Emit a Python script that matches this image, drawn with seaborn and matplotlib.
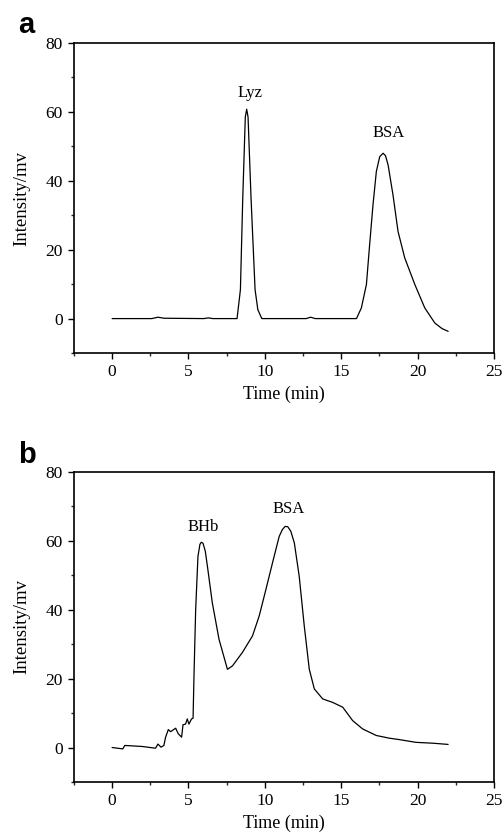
import numpy as np
import pandas as pd
import matplotlib
matplotlib.use("Agg")
import matplotlib.pyplot as plt
import seaborn as sns
from matplotlib.ticker import MultipleLocator

# Panel a data
time_a = [0, 2.6, 3.0, 3.4, 6.0, 6.3, 6.6, 8.18, 8.4, 8.55, 8.72, 8.81, 8.9, 9.1, 9.36,
          9.54, 9.8, 12.7, 13.0, 13.3, 16.0, 16.32, 16.65, 16.86, 17.08, 17.3, 17.52,
          17.74, 17.9, 18.07, 18.39, 18.72, 19.16, 19.82, 20.47, 21.13, 21.6, 22.0]
int_a = [0, 0, 0.4, 0.1, 0, 0.2, 0, 0, 8.4, 34.5, 58.5, 60.8, 58.5, 34.5, 8.4,
         2.6, 0, 0, 0.4, 0, 0, 3.1, 9.9, 21.4, 33, 42.7, 47,
         48, 47.3, 44.6, 35.9, 25.3, 17.6, 9.9, 3.1, -1.3, -2.9, -3.7]

# Panel b data
time_b = [0, 0.7, 0.83, 1.97, 2.84, 3.0, 3.2, 3.39, 3.5, 3.68, 3.83, 4.16, 4.33, 4.55,
          4.64, 4.81, 4.92, 5.03, 5.2, 5.3, 5.36, 5.47, 5.62, 5.75, 5.84, 5.95, 6.1, 6.24,
          6.56, 7.0, 7.55, 7.88, 8.53, 9.19, 9.63, 10.07, 10.5, 10.94, 11.15, 11.33, 11.5,
          11.7, 11.93, 12.25, 12.58, 12.91, 13.24, 13.79, 14.44, 15.1, 15.75, 16.4,
          17.29, 18.16, 18.8, 19.9, 21.0, 22.0]
int_b = [0, -0.4, 0.6, 0.3, -0.2, 1.0, 0.1, 0.6, 3.0, 5.2, 4.6, 5.6, 4.0, 3.0,
         6.6, 6.8, 8.3, 6.8, 8.3, 8.5, 20.8, 40, 55.5, 59.0, 59.6, 59.3, 57.0, 52.6,
         42, 31.4, 22.7, 23.7, 27.6, 32.4, 38.2, 45.9, 53.6, 61.3, 63.3, 64.2, 64.1,
         62.8, 59.4, 49.7, 35.3, 22.7, 17, 14.1, 13.1, 11.7, 7.8, 5.4,
         3.5, 2.7, 2.3, 1.5, 1.25, 0.9]

labels_a = [("Lyz", 9.0, 64.4), ("BSA", 18.1, 52.8)]
labels_b = [("BHb", 5.97, 62.9), ("BSA", 11.57, 68.0)]
xticks = [0, 5, 10, 15, 20, 25]
yticks = [0, 20, 40, 60, 80]

sns.set_theme(style="ticks")
plt.rcParams['font.family'] = ['Liberation Serif', 'DejaVu Serif']
plt.rcParams['axes.linewidth'] = 1.2
plt.rcParams['text.color'] = 'black'

fig = plt.figure(figsize=(5.03, 8.34), dpi=100)
ax_a = fig.add_axes([0.147, 0.5767, 0.835, 0.3717])
ax_b = fig.add_axes([0.147, 0.0624, 0.835, 0.3717])

for ax, t, y, labs, letter, ly in [(ax_a, time_a, int_a, labels_a, "a", 0.960),
                                   (ax_b, time_b, int_b, labels_b, "b", 0.445)]:
    df = pd.DataFrame({"t": t, "y": y})
    sns.lineplot(data=df, x="t", y="y", ax=ax, sort=False, color="black",
                 linewidth=0.9, estimator=None)
    ax.set_xlim(-2.5, 25)
    ax.set_ylim(-10, 80)
    ax.set_xticks(xticks)
    ax.set_yticks(yticks)
    ax.xaxis.set_minor_locator(MultipleLocator(2.5))
    ax.yaxis.set_minor_locator(MultipleLocator(10))
    ax.tick_params(which="major", direction="out", length=4, width=1,
                   labelsize=12.5, top=False, right=False, colors="black", pad=4)
    ax.tick_params(which="minor", direction="out", length=2.5, width=1,
                   top=False, right=False)
    for s in ax.spines.values():
        s.set_visible(True)
        s.set_color("black")
    ax.set_xlabel("Time (min)", fontsize=13, labelpad=4, color="black")
    ax.set_ylabel("Intensity/mv", fontsize=13.5, labelpad=11, color="black")
    for txt, x, yy in labs:
        ax.text(x, yy, txt, ha="center", va="baseline", fontsize=12, color="black")
    fig.text(0.036, ly, letter, fontsize=21, fontweight="bold",
             family="Liberation Sans", va="baseline", ha="left", color="black")

fig.savefig("out.png", dpi=100)
